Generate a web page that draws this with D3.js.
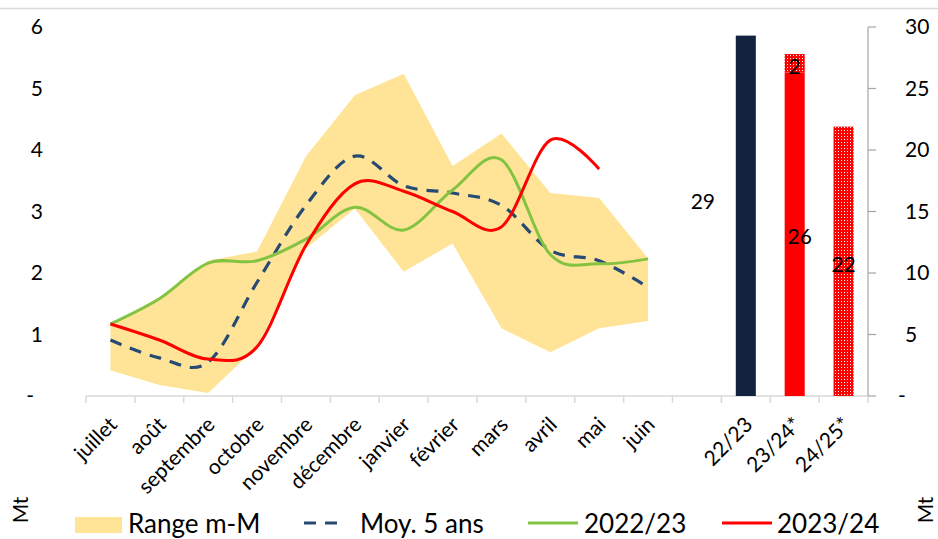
<!DOCTYPE html>
<html>
<head>
<meta charset="utf-8">
<script src="https://cdn.jsdelivr.net/npm/d3@7"></script>
<style>
  body { margin: 0; background: #fff; }
  svg { font-family: Lato, "DejaVu Sans", sans-serif; }
</style>
</head>
<body>
<div id="chart"></div>
<script>
// Monthly data (Mt)
const months = ['juillet', 'août', 'septembre', 'octobre', 'novembre', 'décembre',
    'janvier', 'février', 'mars', 'avril', 'mai', 'juin'];
const rangeMin = [0.42, 0.18, 0.05, 0.8, 2.4, 3.05, 2.02, 2.48, 1.1, 0.71, 1.1, 1.22];
const rangeMax = [1.17, 1.6, 2.2, 2.35, 3.9, 4.89, 5.24, 3.74, 4.27, 3.3, 3.22, 2.24];
const avg5 = [0.91, 0.62, 0.55, 1.85, 3.1, 3.9, 3.42, 3.3, 3.1, 2.37, 2.2, 1.77];
const s2223 = [1.17, 1.58, 2.16, 2.2, 2.55, 3.07, 2.7, 3.35, 3.84, 2.3, 2.15, 2.23];
const s2324 = [1.17, 0.91, 0.6, 0.8, 2.45, 3.45, 3.33, 3.0, 2.75, 4.16, 3.69];

// Annual totals (Mt, right axis)
const seasons = ['22/23', '23/24*', '24/25*'];
const annualSolid = [29.3, 26.3, 0];
const annualHatch = [0, 1.5, 21.9];

const leftTicks = [0, 1, 2, 3, 4, 5, 6];
const rightTicks = [0, 5, 10, 15, 20, 25, 30];

const W = 938, H = 539;
const svg = d3.select('#chart').append('svg')
    .attr('width', W)
    .attr('height', H);

// dotted red fill for estimates
const defs = svg.append('defs');
const pat = defs.append('pattern')
    .attr('id', 'hatch')
    .attr('x', 0).attr('y', 0)
    .attr('width', 3).attr('height', 3)
    .attr('patternUnits', 'userSpaceOnUse');
pat.append('rect').attr('width', 3).attr('height', 3)
    .attr('fill', '#ff0000').attr('shape-rendering', 'crispEdges');
pat.append('rect').attr('x', 1).attr('y', 1).attr('width', 1).attr('height', 1)
    .attr('fill', '#ffffff').attr('shape-rendering', 'crispEdges');

// top border line
svg.append('line')
    .attr('x1', 0).attr('x2', W).attr('y1', 8.5).attr('y2', 8.5)
    .attr('stroke', '#d9d9d9').attr('stroke-width', 1.5);

const categories = months.concat([' '], seasons);
const x = d3.scaleBand()
    .domain(categories)
    .range([86, 868])
    .padding(0);

const yL = d3.scaleLinear().domain([0, 6]).range([396, 27]);
const yR = d3.scaleLinear().domain([0, 30]).range([396, 27]);

const cx = d => x(d) + x.bandwidth() / 2;

// Range band
const rangeData = months.map((m, i) => ({ m, lo: rangeMin[i], hi: rangeMax[i] }));
svg.append('path')
    .datum(rangeData)
    .attr('fill', '#ffe497')
    .attr('d', d3.area()
        .x(d => cx(d.m))
        .y0(d => yL(d.lo))
        .y1(d => yL(d.hi)));

// x axis
const xAxis = svg.append('g')
    .attr('transform', 'translate(0,396)');
xAxis.append('line')
    .attr('x1', 86).attr('x2', 868)
    .attr('stroke', '#d9d9d9').attr('stroke-width', 1.5);
xAxis.selectAll('.tk')
    .data(categories.concat(['_end']))
    .enter()
    .append('line')
    .attr('x1', (d, i) => 86 + i * x.bandwidth())
    .attr('x2', (d, i) => 86 + i * x.bandwidth())
    .attr('y1', 0).attr('y2', 7)
    .attr('stroke', '#d9d9d9').attr('stroke-width', 1.5);
xAxis.selectAll('.lbl')
    .data(categories.filter(c => c !== ' '))
    .enter()
    .append('text')
    .attr('text-anchor', 'end')
    .attr('font-size', 21)
    .attr('transform', d => `translate(${cx(d) + 8},${30}) rotate(-45)`)
    .text(d => d);

// left axis labels
svg.append('g').selectAll('text')
    .data(leftTicks)
    .enter()
    .append('text')
    .attr('x', d => d === 0 ? 34 : 43)
    .attr('y', d => yL(d))
    .attr('dy', '0.35em')
    .attr('text-anchor', 'end')
    .attr('font-size', 21)
    .text(d => d === 0 ? '-' : d);

// right axis
const rAxis = svg.append('g').attr('transform', 'translate(868,0)');
rAxis.append('line')
    .attr('y1', yR(30)).attr('y2', yR(0))
    .attr('stroke', '#a6a6a6').attr('stroke-width', 1.2);
rAxis.selectAll('.rt')
    .data(rightTicks)
    .enter()
    .append('line')
    .attr('x1', 0).attr('x2', 8)
    .attr('y1', d => yR(d)).attr('y2', d => yR(d))
    .attr('stroke', '#a6a6a6').attr('stroke-width', 1.2);
rAxis.selectAll('text')
    .data(rightTicks)
    .enter()
    .append('text')
    .attr('x', d => d === 0 ? 30 : 37)
    .attr('y', d => yR(d))
    .attr('dy', '0.35em')
    .attr('font-size', 21)
    .text(d => d === 0 ? '-' : d);

// Annual bars
const barW = x.bandwidth() * 0.41;
const bx = d => cx(d) - barW / 2;
svg.append('g').selectAll('rect')
    .data(seasons.map((s, i) => ({ s, v: annualSolid[i], i })).filter(d => d.v > 0))
    .enter()
    .append('rect')
    .attr('x', d => bx(d.s))
    .attr('width', barW)
    .attr('y', d => yR(d.v))
    .attr('height', d => yR(0) - yR(d.v))
    .attr('fill', d => d.i === 0 ? '#12233f' : '#ff0000');
svg.append('g').selectAll('rect')
    .data(seasons.map((s, i) => ({ s, v: annualHatch[i], base: annualSolid[i] })).filter(d => d.v > 0))
    .enter()
    .append('rect')
    .attr('x', d => bx(d.s))
    .attr('width', barW)
    .attr('y', d => yR(d.base + d.v))
    .attr('height', d => yR(d.base) - yR(d.base + d.v))
    .attr('fill', 'url(#hatch)');

// Bar labels
const labels = [];
seasons.forEach((s, i) => {
    if (annualSolid[i] > 0) labels.push({ s, y: yR(annualSolid[i] / 2), t: Math.round(annualSolid[i]), dx: i === 0 ? -43 : 5, dy: i === 0 ? -14 : 2 });
    if (annualHatch[i] > 0) labels.push({ s, y: yR(annualSolid[i] + annualHatch[i] / 2), t: Math.round(annualHatch[i]), dx: 0, dy: 3 });
});
svg.append('g').selectAll('text')
    .data(labels)
    .enter()
    .append('text')
    .attr('x', d => cx(d.s) + d.dx)
    .attr('y', d => d.y + d.dy)
    .attr('dy', '0.35em')
    .attr('text-anchor', 'middle')
    .attr('font-size', 21)
    .text(d => d.t);

// Lines
const line = d3.line()
    .x(d => cx(d.m))
    .y(d => yL(d.v))
    .curve(d3.curveCardinal.tension(0));
const toPts = arr => arr.map((v, i) => ({ m: months[i], v }));

svg.append('path')
    .datum(toPts(avg5))
    .attr('fill', 'none')
    .attr('stroke', '#264a73')
    .attr('stroke-width', 3.2)
    .attr('stroke-dasharray', '12,9')
    .attr('d', line);
svg.append('path')
    .datum(toPts(s2223))
    .attr('fill', 'none')
    .attr('stroke', '#82c341')
    .attr('stroke-width', 3)
    .attr('d', line);
svg.append('path')
    .datum(toPts(s2324))
    .attr('fill', 'none')
    .attr('stroke', '#ff0000')
    .attr('stroke-width', 3)
    .attr('d', line);

// Mt titles
[21, 926].forEach(px => {
    svg.append('text')
        .attr('transform', `translate(${px},510) rotate(-90)`)
        .attr('text-anchor', 'middle')
        .attr('dy', '0.35em')
        .attr('font-size', 21)
        .text('Mt');
});

// Legend
const legend = svg.append('g').attr('font-size', 26);
legend.append('rect')
    .attr('x', 75).attr('y', 517).attr('width', 47).attr('height', 16)
    .attr('fill', '#ffe497');
legend.append('text').attr('x', 128).attr('y', 533).text('Range m-M');
legend.append('line')
    .attr('x1', 304).attr('x2', 345).attr('y1', 523).attr('y2', 523)
    .attr('stroke', '#264a73').attr('stroke-width', 3.2).attr('stroke-dasharray', '12,9');
legend.append('text').attr('x', 360).attr('y', 533).text('Moy. 5 ans');
legend.append('line')
    .attr('x1', 528).attr('x2', 578).attr('y1', 523).attr('y2', 523)
    .attr('stroke', '#82c341').attr('stroke-width', 3);
legend.append('text').attr('x', 584).attr('y', 533).text('2022/23');
legend.append('line')
    .attr('x1', 722).attr('x2', 772).attr('y1', 523).attr('y2', 523)
    .attr('stroke', '#ff0000').attr('stroke-width', 3);
legend.append('text').attr('x', 777).attr('y', 533).text('2023/24');
</script>
</body>
</html>
